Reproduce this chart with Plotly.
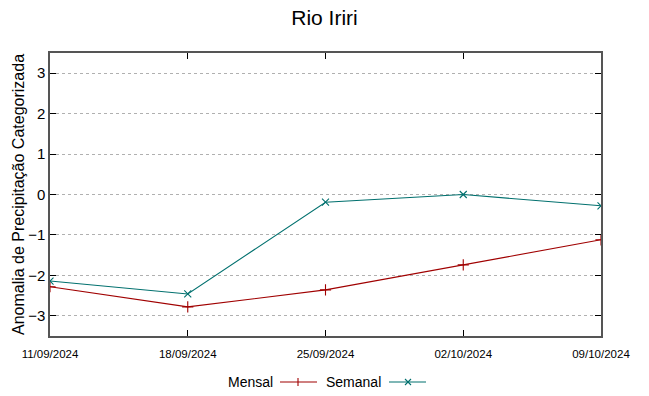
import plotly.graph_objects as go

dates = ["2024-09-11", "2024-09-18", "2024-09-25", "2024-10-02", "2024-10-09"]
date_labels = ["11/09/2024", "18/09/2024", "25/09/2024", "02/10/2024", "09/10/2024"]
mensal = [-2.28, -2.78, -2.36, -1.74, -1.12]
semanal = [-2.14, -2.46, -0.19, 0.0, -0.28]
y_ticks = [-3, -2, -1, 0, 1, 2, 3]

RED = "#a00000"
TEAL = "#00706e"
FONT = "Liberation Sans, Arial, sans-serif"

fig = go.Figure()
fig.add_trace(go.Scatter(x=dates, y=mensal, name="Mensal", mode="lines+markers",
                         line=dict(color=RED, width=1.1),
                         marker=dict(symbol="cross-thin-open", size=8, line=dict(color=RED, width=1.1)),
                         showlegend=False))
fig.add_trace(go.Scatter(x=dates, y=semanal, name="Semanal", mode="lines+markers",
                         line=dict(color=TEAL, width=1.1),
                         marker=dict(symbol="x-thin-open", size=7, line=dict(color=TEAL, width=1.1)),
                         showlegend=False))

W, H = 649, 396
L, R, T, B = 50, 48, 53, 60

def px(x):
    return (x - L) / (W - L - R)

def py(y):
    return (H - B - y) / (H - T - B)

annotations = [
    dict(text="Mensal", x=px(275), y=py(382), xref="paper", yref="paper", xanchor="right", yanchor="middle",
         showarrow=False, font=dict(size=14, color="#000", family=FONT)),
    dict(text="Semanal", x=px(383), y=py(382), xref="paper", yref="paper", xanchor="right", yanchor="middle",
         showarrow=False, font=dict(size=14, color="#000", family=FONT)),
]
shapes = [
    dict(type="line", xref="paper", yref="paper", x0=px(280), x1=px(317), y0=py(382), y1=py(382),
         line=dict(color=RED, width=1.1)),
    dict(type="line", xref="paper", yref="paper", x0=px(298), x1=px(298), y0=py(378), y1=py(386),
         line=dict(color=RED, width=1.1)),
    dict(type="line", xref="paper", yref="paper", x0=px(389), x1=px(426), y0=py(382), y1=py(382),
         line=dict(color=TEAL, width=1.1)),
    dict(type="line", xref="paper", yref="paper", x0=px(405), x1=px(411), y0=py(379), y1=py(385),
         line=dict(color=TEAL, width=1.1)),
    dict(type="line", xref="paper", yref="paper", x0=px(405), x1=px(411), y0=py(385), y1=py(379),
         line=dict(color=TEAL, width=1.1)),
]

fig.update_layout(
    width=W, height=H,
    margin=dict(l=L, r=R, t=T, b=B),
    paper_bgcolor="white", plot_bgcolor="white",
    font=dict(family=FONT, color="#000"),
    title=dict(text="Rio Iriri", x=0.5, xanchor="center", y=1 - 18 / H, yanchor="middle",
               font=dict(size=21, family=FONT, color="#000")),
    xaxis=dict(type="date", range=[dates[0], dates[-1]], tickvals=dates, ticktext=date_labels,
               showgrid=False, zeroline=False, showline=True, linecolor="#555", linewidth=1.5, mirror="allticks",
               ticks="inside", ticklen=6, tickcolor="#000", tickfont=dict(size=11.5, family=FONT),
               ticklabelstandoff=6),
    yaxis=dict(range=[-3.5, 3.5], tickvals=y_ticks, showgrid=True, gridcolor="#b0b0b0", griddash="dot",
               gridwidth=1, zeroline=False, showline=True, linecolor="#555", linewidth=1.5, mirror="allticks",
               ticks="inside", ticklen=6, tickcolor="#000", tickfont=dict(size=15, family=FONT),
               title=dict(text="Anomalia de Precipitação Categorizada", font=dict(size=16, family=FONT), standoff=0)),
    annotations=annotations,
    shapes=shapes,
)

fig.write_html("out.html", config={"displayModeBar": False},
               post_script="document.body.style.margin='0';")
